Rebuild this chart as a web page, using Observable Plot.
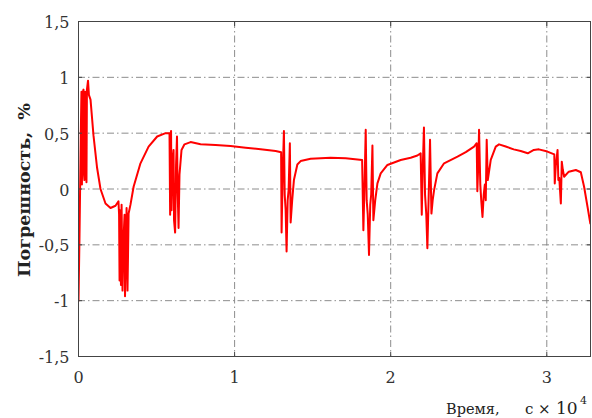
<!DOCTYPE html>
<html><head><meta charset="utf-8">
<script src="https://cdn.jsdelivr.net/npm/d3@7"></script>
<script src="https://cdn.jsdelivr.net/npm/@observablehq/plot@0.6"></script>
<style>body{margin:0;background:#fff}</style>
</head><body><div id="chart"></div>
<script>
// Time, ×10^4 s
const timeX = [
 0, 0.006, 0.016, 0.019, 0.022, 0.026, 0.032, 0.035, 0.038, 0.042, 0.048, 0.051, 0.054, 0.061, 0.067,
 0.077, 0.096, 0.119, 0.141, 0.173, 0.205, 0.237, 0.256,
 0.26, 0.263, 0.266, 0.272, 0.276, 0.282, 0.288, 0.295, 0.298, 0.304, 0.308, 0.314, 0.321,
 0.333, 0.353, 0.397, 0.449, 0.504, 0.558, 0.583,
 0.587, 0.59, 0.593, 0.596, 0.603, 0.609, 0.612, 0.619, 0.625, 0.631, 0.635, 0.641, 0.647,
 0.660, 0.679, 0.718, 0.782, 0.878, 0.974, 1.071, 1.167, 1.263, 1.298,
 1.301, 1.308, 1.316, 1.321, 1.327, 1.333, 1.340, 1.346, 1.354, 1.359, 1.369,
 1.380, 1.402, 1.423, 1.487, 1.615, 1.712, 1.817,
 1.825, 1.833, 1.840, 1.846, 1.853, 1.861, 1.869, 1.875, 1.883, 1.889, 1.901,
 1.915, 1.936, 1.979, 2.064, 2.128, 2.171, 2.192,
 2.199, 2.205, 2.213, 2.220, 2.228, 2.235, 2.242, 2.252, 2.261, 2.269,
 2.278, 2.299, 2.342, 2.428, 2.481, 2.534, 2.551,
 2.555, 2.561, 2.566, 2.574, 2.580, 2.588, 2.596, 2.603, 2.609, 2.615, 2.622,
 2.641, 2.673, 2.694, 2.737, 2.788, 2.833, 2.878, 2.917, 2.949, 3.004, 3.048,
 3.051, 3.058, 3.069, 3.074, 3.080, 3.090, 3.096, 3.103,
 3.111, 3.141, 3.186, 3.218, 3.239, 3.261, 3.279
];
// Error, %
const errorY = [
 -1.0, -0.46, 0.62, 0.87, 0.04, 0.86, 0.89, 0.13, 0.08, 0.87, 0.84, 0.06, 0.89, 0.97, 0.84,
 0.80, 0.48, 0.19, 0.0, -0.13, -0.17, -0.15, -0.11,
 -0.23, -0.82, -0.19, -0.86, -0.14, -0.91, -0.46, -0.23, -0.96, -0.55, -0.17, -0.91, -0.22,
 -0.14, 0.02, 0.23, 0.38, 0.47, 0.50, 0.50,
 -0.23, 0.48, 0.52, -0.19, 0.26, 0.35, -0.28, -0.39, 0.22, 0.47, -0.01, -0.35, 0.13,
 0.35, 0.40, 0.42, 0.40, 0.395, 0.385, 0.37, 0.355, 0.34, 0.33,
 -0.39, 0.13, 0.52, -0.05, -0.19, -0.56, -0.10, -0.01, 0.41, -0.30, -0.10,
 0.08, 0.22, 0.25, 0.27, 0.28, 0.275, 0.26,
 -0.37, 0.08, 0.53, -0.10, -0.23, -0.59, -0.14, -0.05, 0.39, -0.28, -0.10,
 0.05, 0.14, 0.215, 0.26, 0.28, 0.30, 0.32,
 -0.23, 0.17, 0.55, -0.05, -0.23, -0.53, -0.14, 0.44, -0.22, -0.10,
 -0.01, 0.14, 0.23, 0.29, 0.33, 0.38, 0.41,
 -0.02, 0.215, 0.53, 0.04, -0.10, -0.25, -0.05, 0.04, -0.10, 0.44, 0.08,
 0.26, 0.38, 0.40, 0.38, 0.355, 0.34, 0.32, 0.35, 0.355, 0.335, 0.31,
 0.05, 0.215, 0.35, 0.08, 0.10, -0.13, 0.245, 0.17,
 0.11, 0.155, 0.17, 0.15, 0.02, -0.16, -0.31
];
const xTicks = [0, 1, 2, 3];
const yTicks = [-1.5, -1, -0.5, 0, 0.5, 1, 1.5];
const yLabel = "Погрешность,  %";
const xLabelMain = "Время,";
const xLabelUnit = "с";
const xLabelTimes = "×";
const xLabelBase = "10";
const xLabelExp = "4";

const data = timeX.map((x, i) => ({x, y: errorY[i]}));
const fmt = d => String(d).replace(".", ",");
const font = "DejaVu Serif";
const grid = {stroke: "#808080", strokeOpacity: 1, strokeWidth: 0.9, strokeDasharray: "7,3,1.5,3"};
const tickStyle = {text: null, tickSize: 4, stroke: "#444", label: null};

const chart = Plot.plot({
  width: 592, height: 418,
  marginLeft: 78, marginRight: 2, marginTop: 21, marginBottom: 62,
  style: {fontFamily: font, fontSize: "16px", color: "#333", background: "#fff"},
  x: {domain: [0, 3.28]},
  y: {domain: [-1.5, 1.5]},
  marks: [
    Plot.gridX(xTicks, grid),
    Plot.gridY(yTicks, grid),
    Plot.line(data, {x: "x", y: "y", stroke: "#ff0000", strokeWidth: 2, clip: true}),
    Plot.frame({stroke: "#444"}),
    Plot.axisX(xTicks, {anchor: "bottom", ...tickStyle, dy: -4}),
    Plot.axisX(xTicks, {anchor: "top", ...tickStyle, dy: 4}),
    Plot.axisY(yTicks, {anchor: "left", ...tickStyle, dx: 4}),
    Plot.axisY(yTicks, {anchor: "right", ...tickStyle, dx: -4}),
    Plot.axisX(xTicks, {anchor: "bottom", tickSize: 0, tickPadding: 15, tickFormat: fmt, label: null, fill: "#333", fontFamily: font}),
    Plot.axisY(yTicks, {anchor: "left", tickSize: 0, tickPadding: 9, tickFormat: fmt, label: null, fill: "#333", dy: 1.5, fontFamily: font})
  ]
});

const svg = d3.select(chart);
svg.append("text")
  .attr("transform", "translate(30,190) rotate(-90)")
  .attr("text-anchor", "middle")
  .attr("font-family", font)
  .attr("font-size", 17.5)
  .attr("font-weight", "bold")
  .attr("fill", "#222")
  .text(yLabel);
const xl = svg.append("g").attr("font-family", font).attr("fill", "#222").attr("text-anchor", "start");
xl.append("text").attr("x", 446).attr("y", 414).attr("font-size", 14.5).text(xLabelMain);
xl.append("text").attr("x", 525).attr("y", 414).attr("font-size", 15).text(xLabelUnit);
xl.append("text").attr("x", 538).attr("y", 414).attr("font-size", 15).text(xLabelTimes);
xl.append("text").attr("x", 556).attr("y", 414).attr("font-size", 17).text(xLabelBase);
xl.append("text").attr("x", 580).attr("y", 404).attr("font-size", 11).text(xLabelExp);

document.getElementById("chart").appendChild(chart);
</script>
</body></html>
